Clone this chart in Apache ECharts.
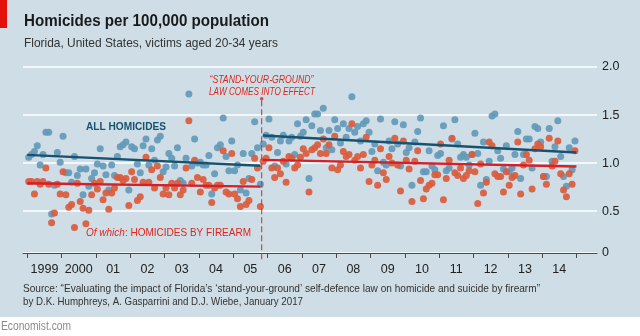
<!DOCTYPE html>
<html>
<head>
<meta charset="utf-8">
<script src="https://cdn.jsdelivr.net/npm/echarts@6/dist/echarts.min.js"></script>
<style>
  html, body { margin: 0; padding: 0; background: #ffffff; }
  #chart { width: 640px; height: 336px; }
</style>
</head>
<body>
<div id="chart"></div>
<script>
// Monthly homicide rates per 100,000 (Florida, victims aged 20-34), Jan 1999 - Dec 2014
const years = [1999, 2000, 2001, 2002, 2003, 2004, 2005, 2006, 2007, 2008, 2009, 2010, 2011, 2012, 2013, 2014];

const allHomicides = [
  1.06, 1.09, 1.12, 1.18, 0.98, 1.09, 1.32, 1.32, 0.47, 0.77, 1.11, 1.01, // 1999
  1.28, 0.90, 0.90, 0.80, 1.07, 0.87, 0.94, 0.67, 0.94, 0.76, 0.84, 0.90, // 2000
  0.99, 1.15, 0.97, 0.88, 0.72, 0.98, 0.87, 1.07, 1.17, 1.19, 1.22, 0.72, // 2001
  1.17, 1.15, 0.99, 0.90, 1.18, 1.25, 0.98, 1.15, 1.03, 1.24, 1.28, 0.91, // 2002
  0.96, 1.10, 1.05, 0.97, 1.16, 0.82, 0.79, 1.05, 1.72, 0.97, 1.25, 1.00, // 2003
  1.01, 0.98, 0.98, 1.08, 0.68, 0.89, 1.16, 1.19, 1.47, 1.07, 0.92, 1.23, // 2004
  0.92, 0.98, 0.72, 1.10, 0.69, 0.84, 1.10, 1.43, 1.16, 0.78, 1.20, 1.29, // 2005
  1.46, 1.27, 0.97, 1.11, 1.23, 1.29, 0.99, 1.23, 1.27, 1.09, 1.41, 1.28, // 2006
  1.32, 1.45, 0.84, 1.39, 1.51, 1.51, 1.34, 1.57, 1.16, 1.34, 1.14, 1.45, // 2007
  1.36, 1.21, 1.41, 1.27, 1.36, 1.69, 1.32, 1.38, 1.23, 1.41, 1.44, 1.32, // 2008
  1.12, 1.20, 0.92, 1.46, 1.01, 0.98, 1.23, 1.15, 1.43, 1.20, 0.97, 1.40, // 2009
  1.11, 1.16, 0.77, 1.22, 1.33, 1.47, 0.91, 0.91, 1.13, 0.97, 0.93, 1.08, // 2010
  1.10, 1.39, 0.92, 0.95, 1.25, 1.45, 1.20, 1.06, 1.09, 1.06, 0.98, 1.09, // 2011
  1.31, 1.10, 0.77, 1.22, 0.83, 1.02, 1.49, 1.51, 1.13, 1.05, 0.94, 1.18, // 2012
  0.91, 0.95, 1.09, 1.33, 0.84, 1.09, 1.25, 1.25, 0.95, 1.38, 1.36, 1.22, // 2013
  0.86, 0.86, 1.36, 1.02, 1.17, 1.44, 1.07, 0.86, 0.76, 1.16, 0.93, 1.23  // 2014
];

const firearmHomicides = [
  0.81, 0.81, 0.68, 0.81, 0.78, 0.81, 0.95, 0.78, 0.38, 0.48, 0.78, 0.68, // 1999
  0.91, 0.67, 0.54, 0.57, 0.33, 0.79, 0.60, 0.53, 0.37, 0.51, 0.67, 0.79, // 2000
  0.73, 0.81, 0.62, 0.69, 0.52, 0.69, 0.74, 0.85, 0.85, 0.82, 0.84, 0.56, // 2001
  0.91, 0.83, 0.61, 0.65, 0.80, 1.06, 0.80, 0.93, 0.74, 0.97, 0.85, 0.68, // 2002
  0.74, 0.67, 0.79, 0.74, 0.79, 0.67, 0.72, 0.95, 1.44, 0.79, 1.03, 0.85, // 2003
  0.70, 0.83, 0.77, 0.77, 0.59, 0.74, 0.77, 0.77, 1.13, 0.70, 0.68, 1.10, // 2004
  0.68, 0.63, 0.55, 0.81, 0.57, 0.61, 0.83, 1.05, 0.95, 0.55, 1.02, 1.05, // 2005
  1.16, 0.95, 0.85, 0.95, 0.89, 1.02, 0.80, 1.07, 1.05, 0.95, 0.98, 1.06, // 2006
  1.15, 1.10, 0.70, 1.14, 1.16, 1.19, 1.10, 1.25, 1.10, 1.19, 0.95, 1.28, // 2007
  0.93, 0.98, 1.12, 1.07, 1.09, 1.41, 1.03, 1.07, 0.95, 1.09, 1.27, 0.81, // 2008
  0.98, 1.03, 0.77, 1.15, 0.90, 0.83, 1.07, 1.00, 1.26, 0.98, 0.71, 1.23, // 2009
  1.03, 0.94, 0.60, 1.02, 1.13, 0.82, 0.63, 0.73, 0.77, 0.79, 0.88, 0.88, // 2010
  1.20, 0.62, 0.84, 1.03, 1.26, 0.90, 0.87, 0.95, 0.84, 0.87, 0.92, 1.09, // 2011
  0.91, 0.58, 0.99, 0.69, 0.80, 1.22, 1.18, 0.89, 0.86, 0.86, 0.70, 0.91, // 2012
  0.77, 0.85, 0.87, 1.22, 0.68, 0.98, 1.09, 1.03, 0.73, 1.15, 1.20, 1.17, // 2013
  0.86, 0.78, 1.26, 0.97, 1.02, 1.23, 0.89, 0.72, 0.65, 0.89, 0.78, 1.13  // 2014
];

// Fitted trend levels [start, end] before and after the law change
const allTrendPre = [1.086, 0.972];
const allTrendPost = [1.288, 1.110];
const firearmTrendPre = [0.790, 0.756];
const firearmTrendPost = [1.034, 0.965];

// Law takes effect (decimal year), and height of its marker line
const lawDate = 2005.83;
const lawMarkerTop = 1.67;

const yearLabels = ['1999', '2000', '01', '02', '03', '04', '05', '06', '07', '08', '09', '10', '11', '12', '13', '14'];
const yTickValues = [0.065, 0.5, 1.0, 1.5, 2.0];
const yTickLabels = ['0', '0.5', '1.0', '1.5', '2.0'];

// ---- build series data ----
const monthX = i => years[0] + (i + 0.5) / 12;
const allPts = allHomicides.map((v, i) => [monthX(i), v]);
const firearmPts = firearmHomicides.map((v, i) => [monthX(i), v]);
const startX = years[0];
const endX = years[years.length - 1] + 1;
const gap = 0.035;

const yearTicks = years.concat([endX]);
const labelPositions = years.map(y => y + 0.5);

const FONT = "'Liberation Sans', Arial, sans-serif";
const BLUE_DOT = '#6399b8';
const RED_DOT = '#db5b3d';
const BLUE_LINE = '#17536f';
const RED_LINE = '#d3202a';
const RED_TEXT = '#e0261c';

// Condense text horizontally so a line fills a given width (narrow house typeface look)
const measureCtx = document.createElement('canvas').getContext('2d');
function textWidth(text, font) {
  measureCtx.font = font;
  return measureCtx.measureText(text).width;
}
function condensed(text, font, width) {
  return width / textWidth(text, font);
}

function label(text, font, fill, x, baseline, width, size, align) {
  return {
    type: 'text', x: x, y: baseline - 0.8465 * size, silent: true,
    scaleX: condensed(text, font, width),
    style: { text: text, font: font, fill: fill, textAlign: align || 'left', verticalAlign: 'top' }
  };
}

const titleText = 'Homicides per 100,000 population';
const subText = 'Florida, United States, victims aged 20-34 years';
const src1 = 'Source: \u201CEvaluating the impact of Florida\u2019s \u2018stand-your-ground\u2019 self-defence law on homicide and suicide by firearm\u201D';
const src2 = 'by D.K. Humphreys, A. Gasparrini and D.J. Wiebe, January 2017';

const ofWhichItalic = 'italic 11.5px ' + FONT;
const ofWhichNormal = '11.5px ' + FONT;
const ofWhichScale = 165 / (textWidth('Of which', ofWhichItalic) + textWidth(': HOMICIDES BY FIREARM', ofWhichNormal));

const chart = echarts.init(document.getElementById('chart'), null, { renderer: 'canvas' });

const trendSeries = (pts, color) => ({
  type: 'line',
  data: pts,
  symbol: 'none',
  silent: true,
  z: 5,
  lineStyle: { color: color, width: 2.4 },
  animation: false
});

chart.setOption({
  animation: false,
  backgroundColor: '#ffffff',
  textStyle: { fontFamily: FONT },
  grid: { left: 23, right: 43, top: 67, bottom: 83, containLabel: false },
  xAxis: {
    type: 'value',
    min: 1998.875,
    max: 2015.6,
    axisLine: { show: true, onZero: false, lineStyle: { color: '#4a4a4a', width: 1 } },
    axisTick: { show: true, customValues: yearTicks, length: 5, lineStyle: { color: '#4a4a4a', width: 1 } },
    axisLabel: {
      customValues: labelPositions,
      formatter: v => yearLabels[Math.round(v - 0.5) - years[0]],
      fontFamily: FONT, fontSize: 12.5, color: '#222', margin: 10
    },
    splitLine: { show: false }
  },
  yAxis: {
    type: 'value',
    position: 'right',
    min: 0.065,
    max: 2.0,
    axisLine: { show: false },
    axisTick: { show: false, customValues: yTickValues },
    axisLabel: {
      customValues: yTickValues,
      formatter: v => yTickLabels[yTickValues.indexOf(v)],
      fontFamily: FONT, fontSize: 12.5, color: '#222', margin: 5
    },
    splitLine: { show: true, lineStyle: { color: '#ffffff', width: 1.5 } }
  },
  series: [
    {
      name: 'All homicides', type: 'scatter', data: allPts, symbolSize: 7, z: 2,
      itemStyle: { color: BLUE_DOT, opacity: 0.92 }
    },
    {
      name: 'Homicides by firearm', type: 'scatter', data: firearmPts, symbolSize: 7, z: 3,
      itemStyle: { color: RED_DOT, opacity: 0.92 }
    },
    trendSeries([[startX, allTrendPre[0]], [lawDate - gap, allTrendPre[1]]], BLUE_LINE),
    trendSeries([[lawDate + gap, allTrendPost[0]], [endX, allTrendPost[1]]], BLUE_LINE),
    trendSeries([[startX, firearmTrendPre[0]], [lawDate - gap, firearmTrendPre[1]]], RED_LINE),
    trendSeries([[lawDate + gap, firearmTrendPost[0]], [endX, firearmTrendPost[1]]], RED_LINE),
    {
      type: 'line', data: [[lawDate, 0.0], [lawDate, lawMarkerTop]], symbol: 'none', clip: false, z: 4,
      lineStyle: { color: RED_TEXT, width: 1, type: [6, 3] }
    },
    {
      type: 'scatter', data: [[lawDate, lawMarkerTop]], symbolSize: 3.5, z: 4,
      itemStyle: { color: RED_TEXT }
    }
  ],
  graphic: [
    { type: 'rect', z: -10, silent: true, shape: { x: 0, y: 0, width: 640, height: 317 }, style: { fill: '#cedde6' } },
    { type: 'rect', z: -9, silent: true, shape: { x: 0, y: 0, width: 7, height: 28 }, style: { fill: '#e3120b' } },
    label(titleText, 'bold 17px ' + FONT, '#1a1a1a', 24, 27, 245, 17),
    label(subText, '13px ' + FONT, '#333333', 24, 48, 254, 13),
    label('ALL HOMICIDES', 'bold 11.5px ' + FONT, BLUE_LINE, 86, 130.7, 80, 11.5),
    {
      type: 'text', x: 86, y: 236.7 - 0.8465 * 11.5, silent: true, scaleX: ofWhichScale,
      style: {
        text: '{i|Of which}{n|: HOMICIDES BY FIREARM}', verticalAlign: 'top',
        rich: {
          i: { font: ofWhichItalic, fill: RED_TEXT },
          n: { font: ofWhichNormal, fill: RED_TEXT }
        }
      }
    },
    label('\u201CSTAND-YOUR-GROUND\u201D', 'italic 11.5px ' + FONT, RED_TEXT, 261.5, 83.3, 104, 11.5, 'center'),
    label('LAW COMES INTO EFFECT', 'italic 11.5px ' + FONT, RED_TEXT, 262, 96, 106, 11.5, 'center'),
    label(src1, '11.5px ' + FONT, '#333333', 23, 293, 517, 11.5),
    label(src2, '11.5px ' + FONT, '#333333', 23, 306, 280, 11.5),
    label('Economist.com', '12px ' + FONT, '#8a8a8a', 1, 331, 70, 12)
  ]
});
</script>
</body>
</html>
